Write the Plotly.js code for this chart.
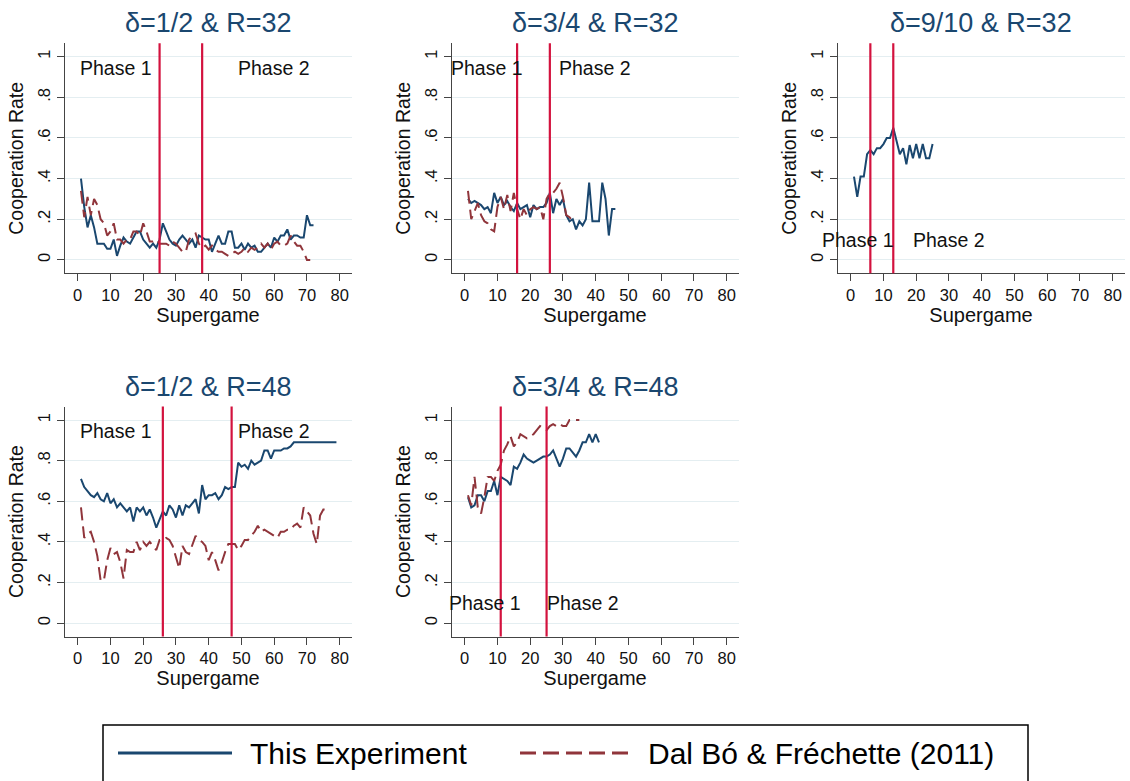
<!DOCTYPE html>
<html>
<head>
<meta charset="utf-8">
<script src="https://cdn.plot.ly/plotly-3.0.1.min.js"></script>
<style>html,body{margin:0;padding:0;background:#fff}#chart{width:1130px;height:781px}</style>
</head>
<body>
<div id="chart"></div>
<script>
// ---------- DATA ----------
const titles = ['δ=1/2 & R=32', 'δ=3/4 & R=32', 'δ=9/10 & R=32', 'δ=1/2 & R=48', 'δ=3/4 & R=48'];
const seriesNames = ['This Experiment', 'Dal Bó & Fréchette (2011)'];
const xTicks = [0, 10, 20, 30, 40, 50, 60, 70, 80];
const yTicks = [0, 0.2, 0.4, 0.6, 0.8, 1];
const yTickText = ['0', '.2', '.4', '.6', '.8', '1'];
const phaseNames = ['Phase 1', 'Phase 2'];

// cooperation rate by supergame (supergame = index + 1)
const p1Exp = [.40,.26,.16,.22,.16,.08,.08,.08,.055,.055,.10,.02,.07,.11,.09,.08,.11,.14,.14,.10,.08,.06,.08,.06,.10,.18,.14,.10,.08,.07,.10,.12,.10,.08,.10,.06,.12,.11,.10,.10,.04,.08,.12,.08,.08,.14,.14,.06,.06,.08,.05,.08,.06,.07,.04,.04,.06,.08,.06,.11,.09,.12,.12,.15,.10,.12,.12,.11,.11,.22,.17,.17];
const p1Dbf = [.34,.21,.31,.22,.30,.27,.20,.18,.12,.14,.18,.10,.10,.08,.10,.10,.14,.14,.12,.18,.14,.09,.09,.10,.08,.08,.08,.07,.09,.08,.06,.04,.04,.10,.12,.13,.08,.06,.07,.05,.07,.05,.04,.04,.03,.02,.03,.04,.03,.04,.06,.04,.06,.05,.06,.08,.06,.08,.05,.08,.09,.07,.07,.08,.12,.09,.07,.07,.04,0,0];
const p2Exp = [.30,.28,.29,.28,.27,.25,.26,.23,.33,.28,.31,.27,.29,.26,.24,.28,.25,.26,.27,.21,.27,.25,.26,.26,.28,.33,.23,.30,.27,.30,.22,.19,.20,.15,.19,.17,.20,.38,.19,.19,.19,.38,.30,.12,.25,.25];
const p2Dbf = [.34,.20,.24,.28,.22,.19,.18,.15,.14,.26,.31,.25,.32,.24,.33,.25,.20,.25,.22,.25,.26,.25,.26,.20,.30,.33,.33,.35,.38,.31,.22,.21,.19];
const p3Exp = [.41,.31,.41,.41,.52,.54,.52,.55,.55,.57,.60,.60,.65,.58,.52,.55,.47,.565,.50,.57,.50,.57,.50,.50,.57];
const p4Exp = [.71,.67,.65,.63,.62,.64,.61,.60,.64,.59,.61,.57,.59,.57,.55,.57,.50,.57,.55,.57,.53,.56,.52,.47,.51,.55,.53,.58,.56,.52,.58,.53,.58,.57,.59,.61,.54,.68,.61,.63,.63,.64,.61,.63,.67,.66,.67,.67,.79,.77,.78,.76,.80,.78,.79,.80,.85,.85,.81,.85,.85,.85,.86,.86,.87,.89,.89,.89,.89,.89,.89,.89,.89,.89,.89,.89,.89,.89,.89];
const p4Dbf = [.57,.42,.44,.45,.40,.33,.21,.21,.31,.37,.34,.35,.30,.22,.36,.35,.35,.40,.36,.40,.38,.40,.38,.36,.41,.41,.42,.41,.38,.32,.27,.38,.35,.34,.39,.43,.41,.40,.38,.31,.35,.31,.26,.30,.35,.39,.39,.39,.36,.38,.41,.41,.43,.45,.48,.45,.46,.45,.44,.43,.42,.45,.45,.46,.46,.48,.49,.47,.57,.55,.53,.44,.39,.53,.56,.56];
const p5Exp = [.62,.57,.58,.63,.63,.60,.65,.65,.70,.63,.72,.71,.70,.68,.77,.76,.79,.83,.81,.80,.79,.80,.81,.82,.82,.83,.85,.81,.77,.81,.86,.86,.84,.82,.85,.89,.89,.93,.89,.93,.89];
const p5Dbf = [.63,.58,.72,.57,.54,.62,.72,.72,.70,.75,.78,.85,.88,.92,.87,.89,.93,.92,.91,.92,.93,.95,.97,.96,.95,.97,.98,.97,.98,.97,.97,1.0,1.0,1.0,1.0];

// supergame at which each phase boundary is drawn
const p1Breaks = [25, 38];
const p2Breaks = [16, 26];
const p3Breaks = [6, 13];
const p4Breaks = [26, 47];
const p5Breaks = [11, 25];

// ---------- STYLE / LAYOUT ----------
const FONT = 'Liberation Sans, Arial, Helvetica, sans-serif';
const BLUE = '#1a476f', MAROON = '#90353b', CRIMSON = '#d3123e';
const GRID = '#e4eef1', AXIS = '#444';

const panels = [
  {title: titles[0], exp: p1Exp, dbf: p1Dbf, breaks: p1Breaks, xd: [64.6, 351.5], row: 0, lab: [[11.8, .943], [59.9, .943]]},
  {title: titles[1], exp: p2Exp, dbf: p2Dbf, breaks: p2Breaks, xd: [451.6, 738.5], row: 0, lab: [[6.7, .943], [39.9, .943]]},
  {title: titles[2], exp: p3Exp, dbf: null, breaks: p3Breaks, xd: [837.6, 1124.5], row: 0, lab: [[2.2, .098], [30.0, .098]]},
  {title: titles[3], exp: p4Exp, dbf: p4Dbf, breaks: p4Breaks, xd: [64.6, 351.5], row: 1, lab: [[11.8, .946], [59.9, .946]]},
  {title: titles[4], exp: p5Exp, dbf: p5Dbf, breaks: p5Breaks, xd: [451.6, 738.5], row: 1, lab: [[6.3, .098], [36.1, .098]]}
];
const W = 1130, H = 781;
const rowY = [[43.3, 273.3], [406.6, 636.6]];
const titleY = [23, 387];
const YR = [-0.066, 1.066];

const data = [];
const layout = {
  width: W, height: H,
  margin: {l: 0, r: 0, t: 0, b: 0},
  paper_bgcolor: '#fff', plot_bgcolor: '#fff',
  showlegend: false,
  font: {family: FONT, color: '#111'},
  shapes: [], annotations: []
};

panels.forEach((p, i) => {
  const n = i === 0 ? '' : String(i + 1);
  const xa = 'x' + n, ya = 'y' + n;
  const sg = (arr) => arr.map((_, k) => k + 1);
  data.push({
    type: 'scatter', mode: 'lines', name: seriesNames[0],
    x: sg(p.exp), y: p.exp, xaxis: xa, yaxis: ya,
    line: {color: BLUE, width: 2}, hoverinfo: 'x+y'
  });
  if (p.dbf) {
    data.push({
      type: 'scatter', mode: 'lines', name: seriesNames[1],
      x: sg(p.dbf), y: p.dbf, xaxis: xa, yaxis: ya,
      line: {color: MAROON, width: 2, dash: '13px,6px'}, hoverinfo: 'x+y'
    });
  }
  const ry = rowY[p.row];
  layout['xaxis' + n] = {
    domain: [p.xd[0] / W, p.xd[1] / W], anchor: ya,
    range: [-4, 83.6], tickvals: xTicks, ticks: 'outside', ticklen: 7,
    tickcolor: AXIS, showline: true, linecolor: AXIS, linewidth: 1,
    showgrid: false, zeroline: false, fixedrange: true,
    tickfont: {size: 16.5, color: '#111', family: FONT},
    title: {text: 'Supergame', font: {size: 20, color: '#111', family: FONT}, standoff: 2}
  };
  layout['yaxis' + n] = {
    domain: [1 - ry[1] / H, 1 - ry[0] / H], anchor: xa,
    range: YR, tickvals: yTicks, ticktext: yTickText, tickangle: -90,
    ticks: 'outside', ticklen: 7, tickcolor: AXIS,
    showline: true, linecolor: AXIS, linewidth: 1,
    showgrid: true, gridcolor: GRID, gridwidth: 1, zeroline: false, fixedrange: true,
    tickfont: {size: 16.5, color: '#111', family: FONT},
    title: {text: 'Cooperation Rate', font: {size: 19.5, color: '#111', family: FONT}, standoff: 6}
  };
  p.breaks.forEach(b => {
    layout.shapes.push({
      type: 'line', xref: xa, yref: ya + ' domain', x0: b, x1: b, y0: 0, y1: 1,
      line: {color: CRIMSON, width: 2.2}
    });
  });
  layout.annotations.push({
    xref: 'paper', yref: 'paper', x: (p.xd[0] + p.xd[1]) / 2 / W, y: 1 - titleY[p.row] / H,
    text: p.title, showarrow: false, xanchor: 'center', yanchor: 'middle',
    font: {size: 27, color: BLUE, family: FONT}
  });
  p.lab.forEach((l, k) => {
    layout.annotations.push({
      xref: xa, yref: ya, x: l[0], y: l[1], text: phaseNames[k], showarrow: false,
      xanchor: 'center', yanchor: 'middle', font: {size: 19.5, color: '#111', family: FONT}
    });
  });
});

// ---------- LEGEND (drawn at the bottom, boxed) ----------
const px = v => v / W, py = v => 1 - v / H;
layout.shapes.push({type: 'rect', xref: 'paper', yref: 'paper', x0: px(103), x1: px(1028), y0: py(725), y1: py(800),
  line: {color: '#000', width: 1.5}, fillcolor: 'rgba(0,0,0,0)'});
layout.shapes.push({type: 'line', xref: 'paper', yref: 'paper', x0: px(118), x1: px(232), y0: py(753), y1: py(753),
  line: {color: BLUE, width: 3}});
layout.shapes.push({type: 'line', xref: 'paper', yref: 'paper', x0: px(520), x1: px(628), y0: py(753), y1: py(753),
  line: {color: MAROON, width: 3, dash: '16px,7px'}});
layout.annotations.push({xref: 'paper', yref: 'paper', x: px(248), y: py(753), text: seriesNames[0], showarrow: false,
  xanchor: 'left', yanchor: 'middle', font: {size: 30, color: '#000', family: FONT}});
layout.annotations.push({xref: 'paper', yref: 'paper', x: px(646), y: py(753), text: seriesNames[1], showarrow: false,
  xanchor: 'left', yanchor: 'middle', font: {size: 30, color: '#000', family: FONT}});

Plotly.newPlot('chart', data, layout, {displayModeBar: false, staticPlot: true});
</script>
</body>
</html>
